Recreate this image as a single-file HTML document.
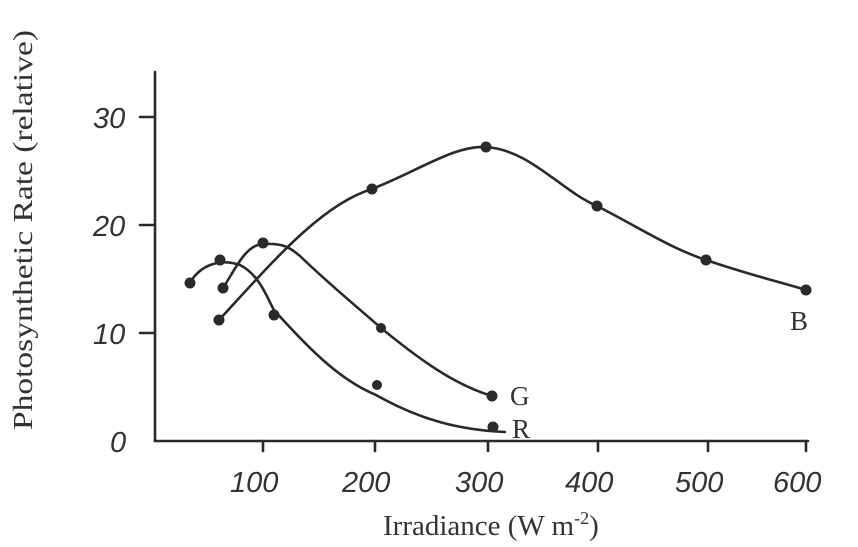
<!DOCTYPE html>
<html><head><style>
body{margin:0;background:#fff;}
svg{display:block;}
text{font-family:"Liberation Sans",sans-serif;fill:#333;}
.s{font-family:"Liberation Serif",serif;}
</style></head><body>
<svg width="858" height="547" viewBox="0 0 858 547">
<g stroke="#2a2a2a" stroke-width="2.6" fill="none" stroke-linecap="round">
<line x1="155" y1="72" x2="155" y2="441"/>
<line x1="155" y1="441" x2="808" y2="441"/>
<line x1="140" y1="117" x2="155" y2="117"/>
<line x1="140" y1="225" x2="155" y2="225"/>
<line x1="140" y1="333" x2="155" y2="333"/>
<line x1="263" y1="441" x2="263" y2="451"/>
<line x1="375" y1="441" x2="375" y2="451"/>
<line x1="488" y1="441" x2="488" y2="451"/>
<line x1="598" y1="441" x2="598" y2="451"/>
<line x1="708" y1="441" x2="708" y2="451"/>
<line x1="806" y1="441" x2="806" y2="451"/>
<path d="M219,320 C270,265 320,205 372,189 C420,170 455,145 486,147 C530,150 560,190 597,206 C640,228 670,248 706,260 C750,275 780,282 806,290"/>
<path d="M223,288 C235,270 245,245 263,244 C285,243 290,248 300,256 C330,285 355,305 381,328 C420,360 455,385 492,396"/>
<path d="M190,283 C200,265 220,258 240,265 C260,275 268,300 274,310 C310,350 340,380 376,395 C420,420 460,430 505,432"/>
</g>
<g fill="#2a2a2a">
<circle cx="190" cy="283" r="5.5"/><circle cx="220" cy="260" r="5.5"/><circle cx="274" cy="315" r="5.5"/><circle cx="377" cy="385" r="5"/><circle cx="493" cy="427" r="5.5"/>
<circle cx="223" cy="288" r="5.5"/><circle cx="263" cy="243" r="5.5"/><circle cx="381" cy="328" r="5"/><circle cx="492" cy="396" r="5.5"/>
<circle cx="219" cy="320" r="5.5"/><circle cx="372" cy="189" r="5.5"/><circle cx="486" cy="147" r="5.5"/><circle cx="597" cy="206" r="5.5"/><circle cx="706" cy="260" r="5.5"/><circle cx="806" cy="290" r="5.5"/>
</g>
<g font-size="29" font-style="italic">
<text x="93" y="128">30</text><text x="93" y="236">20</text><text x="93" y="344">10</text><text x="110" y="452">0</text>
<text x="230" y="492">100</text><text x="342" y="492">200</text><text x="455" y="492">300</text><text x="565" y="492">400</text><text x="675" y="492">500</text><text x="773" y="492">600</text>
</g>
<g font-size="27">
<text class="s" x="790" y="330">B</text>
<text class="s" x="510" y="405">G</text>
<text class="s" x="512" y="438">R</text>
<text class="s" x="383" y="535" font-size="29">Irradiance (W m<tspan font-size="18" dy="-11">-2</tspan><tspan dy="11">)</tspan></text>
<text class="s" transform="translate(32,430) rotate(-90)" textLength="400" lengthAdjust="spacingAndGlyphs">Photosynthetic Rate (relative)</text>
</g>
</svg>
</body></html>
